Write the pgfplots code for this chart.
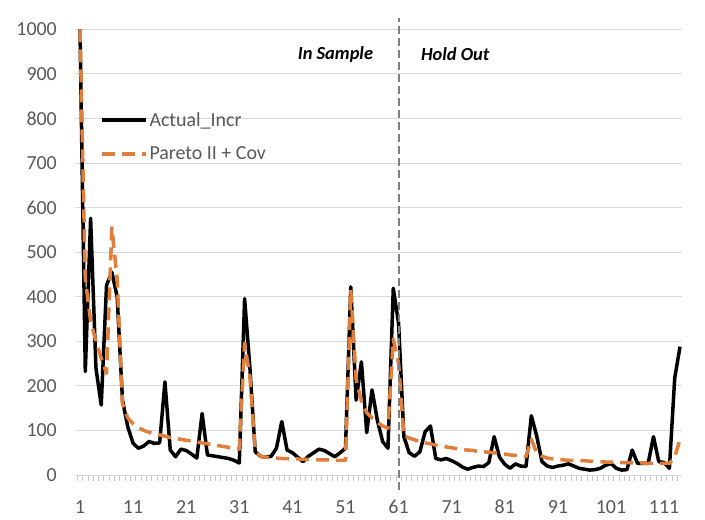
\documentclass[border=0pt]{standalone}
\usepackage{fontspec}
\setmainfont{Carlito}
\usepackage{pgfplots}
\usepackage{pgfplotstable}
\pgfplotsset{compat=1.18}
\definecolor{pareto}{HTML}{E07E3C}
\definecolor{gridc}{HTML}{D9D9D9}
\definecolor{tickc}{HTML}{C8C8C8}
\definecolor{txt}{HTML}{595959}
\definecolor{vline}{HTML}{7F7F7F}

% period, Actual_Incr, Pareto II + Cov
\pgfplotstableread{
i act par
1 1000 1000
2 232 440
3 576 345
4 240 300
5 157 262
6 426 228
7 455 555
8 400 440
9 168 160
10 108 128
11 71 115
12 60 106
13 65 100
14 75 96
15 71 93
16 72 90
17 209 87
18 56 84
19 41 82
20 58 80
21 55 78
22 47 76
23 38 74
24 138 72
25 45 70
26 43 68
27 41 66
28 39 64
29 37 62
30 33 60
31 27 58
32 396 296
33 240 220
34 52 55
35 42 42
36 40 40
37 42 39
38 60 38
39 120 37
40 56 37
41 50 36
42 40 36
43 30 35
44 42 35
45 50 35
46 58 34
47 55 34
48 48 34
49 41 33
50 50 33
51 60 33
52 422 415
53 168 215
54 254 165
55 95 140
56 191 128
57 123 118
58 75 110
59 60 105
60 419 305
61 340 250
62 86 88
63 50 83
64 42 79
65 52 75
66 97 72
67 110 70
68 37 67
69 34 65
70 37 63
71 32 61
72 26 59
73 18 57
74 13 56
75 17 55
76 20 53
77 19 52
78 28 51
79 86 50
80 40 48
81 24 47
82 15 45
83 25 44
84 20 42
85 19 41
86 133 80
87 88 50
88 30 42
89 20 38
90 17 36
91 20 35
92 22 34
93 25 33
94 20 33
95 15 32
96 13 32
97 11 31
98 12 30
99 15 30
100 22 29
101 26 29
102 15 28
103 11 28
104 12 28
105 56 27
106 26 27
107 26 27
108 26 26
109 86 26
110 30 26
111 28 26
112 15 26
113 217 40
114 288 80
}\datatable

\begin{document}
\begin{tikzpicture}
\fill[white] (0,0) rectangle (705bp,520bp);
\begin{axis}[
  at={(75bp,45bp)}, anchor=south west,
  scale only axis, width=606.6bp, height=445.7bp,
  xmin=0.06, xmax=114.3, ymin=0, ymax=1000,
  clip=false,
  axis line style={draw=none},
  ytick={0,100,...,1000},
  xtick={1,11,...,111},
  minor xtick={0.5,1.5,...,114.5},
  ymajorgrids, grid style={gridc, line width=0.9bp},
  xtick pos=left, ytick pos=left,
  tick align=outside,
  major tick length=0pt,
  minor tick length=6bp,
  minor x tick style={tickc, line width=0.8bp},
  major tick style={draw=none},
  font=\fontsize{20}{24}\selectfont,
  tick label style={text=txt},
  /pgf/number format/assume math mode=true,
  /pgf/number format/1000 sep={},
  yticklabel style={anchor=east, inner sep=0pt, xshift=-18bp},
  xticklabel style={anchor=north, inner sep=0pt, yshift=-25bp},
  legend style={at={(axis description cs:0.036,0.823)}, anchor=north west,
    draw=none, fill=none, text=txt, row sep=15bp,
    font=\fontsize{20}{24}\selectfont, cells={anchor=west}},
  legend image code/.code={\draw[#1] (0bp,0bp) -- (44bp,0bp);},
]
\addplot[black, line width=3.5bp, line join=round] table[x=i, y=act] {\datatable};
\addlegendentry{Actual\_Incr}
\addplot[pareto, line width=3.5bp, dash pattern=on 13bp off 7bp, line join=round] table[x=i, y=par] {\datatable};
\addlegendentry{Pareto II + Cov}
\addplot[vline, line width=2bp, dash pattern=on 8bp off 4bp, forget plot] coordinates {(61,-33) (61,1025)};
\node[anchor=east, text=black, font=\fontsize{18.5}{22}\selectfont\bfseries\itshape, xshift=-22bp] at (axis cs:61,944) {In Sample};
\node[anchor=west, text=black, font=\fontsize{18.5}{22}\selectfont\bfseries\itshape, xshift=19bp] at (axis cs:61,944) {Hold Out};
\end{axis}
\end{tikzpicture}
\end{document}
